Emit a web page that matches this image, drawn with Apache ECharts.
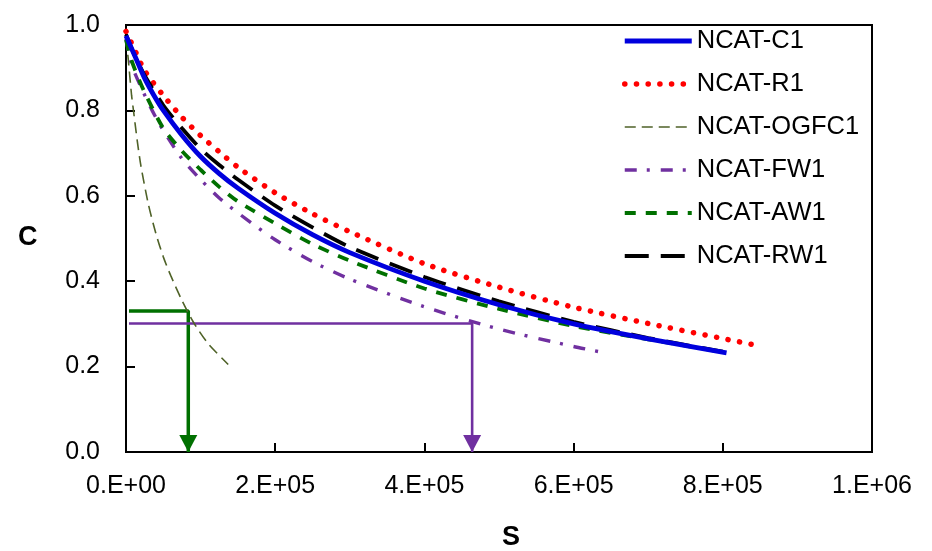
<!DOCTYPE html>
<html>
<head>
<meta charset="utf-8">
<script src="https://cdn.jsdelivr.net/npm/echarts@6/dist/echarts.min.js"></script>
<style>
html,body{margin:0;padding:0;background:#fff;}
#chart{width:932px;height:551px;}
</style>
</head>
<body>
<div id="chart"></div>
<script>
// ---- Data ----
const seriesNames = ['NCAT-C1','NCAT-R1','NCAT-OGFC1','NCAT-FW1','NCAT-AW1','NCAT-RW1'];

const sC1   = [0, 12500, 25000, 37500, 50000, 75000, 100000, 125000, 150000, 200000, 250000, 300000, 400000, 500000, 600000, 700000, 805000];
const cC1   = [0.975, 0.925, 0.875, 0.835, 0.8, 0.742, 0.692, 0.652, 0.618, 0.559, 0.509, 0.467, 0.40, 0.345, 0.30, 0.265, 0.232];

const sR1   = [0, 10000, 25000, 50000, 75000, 100000, 125000, 150000, 200000, 250000, 300000, 400000, 500000, 600000, 700000, 845000];
const cR1   = [0.985, 0.948, 0.893, 0.835, 0.784, 0.741, 0.703, 0.667, 0.607, 0.558, 0.516, 0.441, 0.386, 0.339, 0.301, 0.25];

const sOGFC1 = [0, 3000, 7500, 10000, 15000, 20000, 30000, 40000, 50000, 60000, 75000, 90000, 110000, 137000];
const cOGFC1 = [0.97, 0.92, 0.835, 0.80, 0.73, 0.67, 0.58, 0.512, 0.457, 0.413, 0.355, 0.305, 0.254, 0.205];

const sFW1  = [0, 5000, 10000, 20000, 35000, 50000, 75000, 100000, 125000, 150000, 200000, 250000, 300000, 400000, 500000, 600000, 646000];
const cFW1  = [0.968, 0.925, 0.895, 0.855, 0.80, 0.753, 0.687, 0.638, 0.595, 0.56, 0.497, 0.446, 0.405, 0.34, 0.288, 0.247, 0.231];

const sAW1  = [0, 5000, 12500, 25000, 50000, 75000, 100000, 125000, 150000, 200000, 250000, 300000, 400000, 500000, 600000, 700000, 800000];
const cAW1  = [0.965, 0.93, 0.893, 0.842, 0.758, 0.705, 0.661, 0.621, 0.587, 0.535, 0.487, 0.448, 0.383, 0.335, 0.295, 0.264, 0.234];

const sRW1  = [0, 10000, 25000, 50000, 75000, 100000, 125000, 150000, 200000, 250000, 300000, 400000, 500000, 600000, 700000, 800000];
const cRW1  = [0.978, 0.935, 0.882, 0.812, 0.758, 0.71, 0.672, 0.638, 0.577, 0.526, 0.48, 0.41, 0.353, 0.305, 0.267, 0.235];

// guide lines (arrows): horizontal level then drop to the axis
const guideOGFC_S = [4000, 83500, 83500];
const guideOGFC_C = [0.33, 0.33, 0];
const guideFW_S   = [4000, 464000, 464000];
const guideFW_C   = [0.301, 0.301, 0];

const xTicks = [0, 200000, 400000, 600000, 800000, 1000000];
const yTicks = [0, 0.2, 0.4, 0.6, 0.8, 1.0];

// ---- Helpers ----
function pairs(xs, ys){ return xs.map((x,i)=>[x, ys[i]]); }
function sciLabel(v){
  if (v === 0) return '0.E+00';
  const e = Math.floor(Math.log10(v) + 1e-9);
  const m = Math.round(v / Math.pow(10, e));
  return m + '.E+' + (e < 10 ? '0' + e : e);
}
function guideData(xs, ys, aw, ah){
  return xs.map((x,i)=>{
    if (i === xs.length-1) {
      return {value:[x, ys[i]], symbol:'triangle', symbolRotate:180,
              symbolSize:[aw, ah], symbolOffset:[0, -ah/2]};
    }
    return {value:[x, ys[i]], symbol:'none'};
  });
}

const FONT = 'Liberation Sans, Arial, sans-serif';

const chart = echarts.init(document.getElementById('chart'), null, {renderer:'canvas'});

const styles = {
  'NCAT-C1':   {color:'#0000DD', width:4.8, type:'solid'},
  'NCAT-R1':   {color:'#FF0000', width:5.5, type:[0.1, 11.6], cap:'round'},
  'NCAT-OGFC1':{color:'#4F6228', width:1.6, type:[11, 6]},
  'NCAT-FW1':  {color:'#7030A0', width:3.4, type:[12, 10, 3, 11]},
  'NCAT-AW1':  {color:'#007000', width:3.8, type:[11, 10]},
  'NCAT-RW1':  {color:'#000000', width:3.8, type:[24, 12]}
};
const dataMap = {
  'NCAT-C1': pairs(sC1, cC1),
  'NCAT-R1': pairs(sR1, cR1),
  'NCAT-OGFC1': pairs(sOGFC1, cOGFC1),
  'NCAT-FW1': pairs(sFW1, cFW1),
  'NCAT-AW1': pairs(sAW1, cAW1),
  'NCAT-RW1': pairs(sRW1, cRW1)
};
const drawOrder = ['NCAT-OGFC1','NCAT-FW1','NCAT-AW1','NCAT-R1','NCAT-RW1','NCAT-C1'];

const series = [];
series.push({
  type:'line', name:'guideOGFC', data: guideData(guideOGFC_S, guideOGFC_C, 18, 17),
  symbol:'none', silent:true, animation:false, z:1,
  lineStyle:{color:'#007000', width:3.5}, itemStyle:{color:'#007000'}
});
series.push({
  type:'line', name:'guideFW', data: guideData(guideFW_S, guideFW_C, 18, 17),
  symbol:'none', silent:true, animation:false, z:1,
  lineStyle:{color:'#7030A0', width:2.6}, itemStyle:{color:'#7030A0'}
});
drawOrder.forEach(n=>{
  const st = styles[n];
  series.push({
    type:'line', name:n, data:dataMap[n], smooth:0.25, symbol:'none', showSymbol:false,
    animation:false, z:2,
    lineStyle:{color:st.color, width:st.width, type:st.type, cap:st.cap||'butt'},
    itemStyle:{color:st.color}
  });
});

chart.setOption({
  backgroundColor:'#ffffff',
  animation:false,
  textStyle:{fontFamily:FONT},
  grid:{left:126, right:60, top:25, bottom:99, show:true, borderColor:'#000', borderWidth:2, backgroundColor:'transparent'},
  legend:{
    data: seriesNames.map(n=>({
      name:n,
      itemStyle:{color:'transparent', borderColor:'transparent', borderWidth:0},
      lineStyle:{color:styles[n].color, width:styles[n].width, type:styles[n].type, cap:styles[n].cap||'butt'}
    })),
    orient:'vertical', left:622, top:28, padding:0,
    itemWidth:67, itemHeight:20, itemGap:17,
    textStyle:{fontFamily:FONT, fontSize:25.5, color:'#000', lineHeight:20},
    selectedMode:false
  },
  xAxis:{
    type:'value', min:xTicks[0], max:xTicks[xTicks.length-1], interval:xTicks[1]-xTicks[0],
    axisLine:{show:true, onZero:false, lineStyle:{color:'#000', width:2}},
    axisTick:{show:true, inside:true, length:9, lineStyle:{color:'#000', width:2}},
    splitLine:{show:false},
    axisLabel:{color:'#000', fontSize:25, fontFamily:FONT, margin:22, formatter:sciLabel}
  },
  yAxis:{
    type:'value', min:yTicks[0], max:yTicks[yTicks.length-1], interval:yTicks[1]-yTicks[0],
    axisLine:{show:true, onZero:false, lineStyle:{color:'#000', width:2}},
    axisTick:{show:true, inside:true, length:9, lineStyle:{color:'#000', width:2}},
    splitLine:{show:false},
    axisLabel:{color:'#000', fontSize:25, fontFamily:FONT, margin:26, formatter:v=>v.toFixed(1)}
  },
  graphic:[
    {type:'text', left:18, top:224, style:{text:'C', font:'bold 27px '+FONT, fill:'#000'}},
    {type:'text', left:502, top:524, style:{text:'S', font:'bold 27px '+FONT, fill:'#000'}}
  ],
  series: series
});
</script>
</body>
</html>
